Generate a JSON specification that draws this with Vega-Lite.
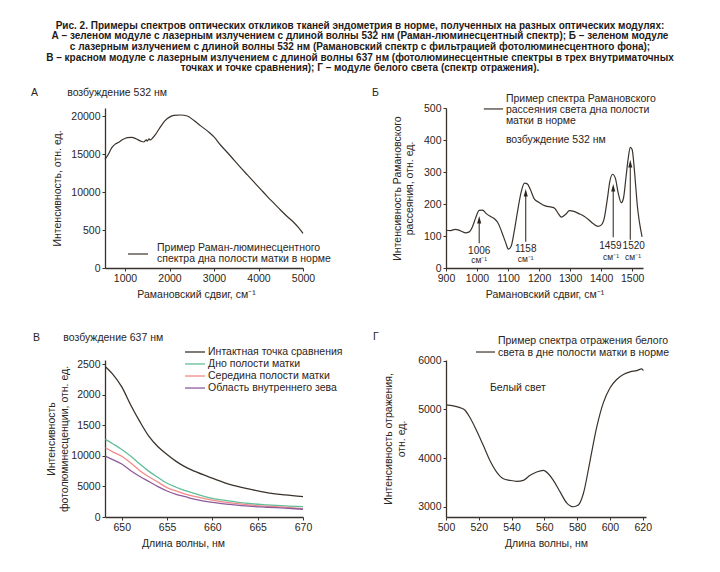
{
  "$schema": "https://vega.github.io/schema/vega-lite/v6.json",
  "autosize": {"type": "none"},
  "padding": {"left": 105, "top": 108, "right": 615, "bottom": 464},
  "background": "#ffffff",
  "title": {
    "text": [
      "Рис. 2. Примеры спектров оптических откликов тканей эндометрия в норме, полученных на разных оптических модулях:",
      "А – зеленом модуле с лазерным излучением с длиной волны 532 нм (Раман-люминесцентный спектр); Б – зеленом модуле",
      "с лазерным излучением с длиной волны 532 нм (Рамановский спектр с фильтрацией фотолюминесцентного фона);",
      "В – красном модуле с лазерным излучением с длиной волны 637 нм (фотолюминесцентные спектры в трех внутриматочных",
      "точках и точке сравнения); Г – модуле белого света (спектр отражения)."
    ],
    "anchor": "start",
    "frame": "group",
    "align": "center",
    "dx": 255,
    "offset": 14,
    "font": "'Liberation Sans Narrow', 'Liberation Sans', sans-serif",
    "fontSize": 10,
    "fontWeight": "bold",
    "lineHeight": 10.7,
    "color": "#1f1a17"
  },
  "columns": 2,
  "spacing": {"row": 92, "column": 143},
  "bounds": "flush",
  "resolve": {"scale": {"x": "independent", "y": "independent", "color": "independent"}},
  "datasets": {
    "a": [
      {"x": 550, "y": 14300}, {"x": 620, "y": 14900}, {"x": 700, "y": 15800}, {"x": 780, "y": 16300},
      {"x": 850, "y": 16500}, {"x": 950, "y": 16900}, {"x": 1050, "y": 17150}, {"x": 1150, "y": 17200},
      {"x": 1250, "y": 17000}, {"x": 1350, "y": 16700}, {"x": 1420, "y": 16580}, {"x": 1480, "y": 16850},
      {"x": 1500, "y": 16700}, {"x": 1540, "y": 17000}, {"x": 1565, "y": 16850}, {"x": 1620, "y": 17100},
      {"x": 1700, "y": 17700}, {"x": 1800, "y": 18600}, {"x": 1900, "y": 19400}, {"x": 2000, "y": 19850},
      {"x": 2100, "y": 20080}, {"x": 2250, "y": 20130}, {"x": 2400, "y": 20000}, {"x": 2550, "y": 19400},
      {"x": 2700, "y": 18700}, {"x": 2900, "y": 17800}, {"x": 3000, "y": 17250}, {"x": 3150, "y": 16150},
      {"x": 3300, "y": 15200}, {"x": 3450, "y": 14200}, {"x": 3600, "y": 13200}, {"x": 3750, "y": 12250},
      {"x": 3900, "y": 11300}, {"x": 4050, "y": 10350}, {"x": 4200, "y": 9400}, {"x": 4350, "y": 8500},
      {"x": 4500, "y": 7600}, {"x": 4650, "y": 6750}, {"x": 4800, "y": 5950}, {"x": 4900, "y": 5300},
      {"x": 5000, "y": 4550}
    ],
    "aLegendLine": [{"x": 1067, "x2": 1516, "y": 1842}],
    "aLegendText": [{"x": 1719, "y": 2237, "label": "Пример Раман-люминесцентного\nспектра дна полости матки в норме"}],
    "b": [
      {"x": 900, "y": 118}, {"x": 915, "y": 117}, {"x": 930, "y": 121}, {"x": 945, "y": 117},
      {"x": 962, "y": 110}, {"x": 975, "y": 113}, {"x": 985, "y": 128}, {"x": 995, "y": 155},
      {"x": 1007, "y": 180}, {"x": 1018, "y": 181}, {"x": 1030, "y": 170}, {"x": 1045, "y": 160},
      {"x": 1057, "y": 153}, {"x": 1068, "y": 140}, {"x": 1080, "y": 112}, {"x": 1092, "y": 80},
      {"x": 1101, "y": 59}, {"x": 1110, "y": 68}, {"x": 1120, "y": 115}, {"x": 1132, "y": 185},
      {"x": 1143, "y": 240}, {"x": 1153, "y": 265}, {"x": 1162, "y": 263}, {"x": 1172, "y": 245},
      {"x": 1185, "y": 215}, {"x": 1200, "y": 205}, {"x": 1220, "y": 194}, {"x": 1240, "y": 190},
      {"x": 1250, "y": 187}, {"x": 1262, "y": 170}, {"x": 1272, "y": 159}, {"x": 1285, "y": 167},
      {"x": 1298, "y": 179}, {"x": 1312, "y": 177}, {"x": 1328, "y": 170}, {"x": 1345, "y": 162},
      {"x": 1360, "y": 151}, {"x": 1375, "y": 138}, {"x": 1390, "y": 130}, {"x": 1400, "y": 134},
      {"x": 1410, "y": 155}, {"x": 1420, "y": 215}, {"x": 1428, "y": 270}, {"x": 1437, "y": 293},
      {"x": 1446, "y": 280}, {"x": 1455, "y": 235}, {"x": 1465, "y": 204}, {"x": 1472, "y": 218},
      {"x": 1480, "y": 282}, {"x": 1487, "y": 340}, {"x": 1494, "y": 377}, {"x": 1500, "y": 370},
      {"x": 1506, "y": 320}, {"x": 1512, "y": 250}, {"x": 1517, "y": 192}, {"x": 1524, "y": 140},
      {"x": 1532, "y": 97}
    ],
    "bLegendLine": [{"x": 1022, "x2": 1084, "y": 497}],
    "bLegendText": [{"x": 1093, "y": 519, "label": "Пример спектра Рамановского\nрассеяния света дна полости\nматки в норме"}],
    "bNote": [{"x": 1093, "y": 400, "label": "возбуждение 532 нм"}],
    "peakArrows": [
      {"x": 1007, "y": 77, "y2": 151}, {"x": 1157, "y": 82, "y2": 235},
      {"x": 1439, "y": 96, "y2": 251}, {"x": 1494, "y": 88, "y2": 326}
    ],
    "peakHeads": [
      {"x": 1007, "y": 151}, {"x": 1157, "y": 235}, {"x": 1439, "y": 251}, {"x": 1494, "y": 326}
    ],
    "peakLabels": [
      {"x": 1007, "y": 54, "label": "1006"}, {"x": 1157, "y": 58, "label": "1158"},
      {"x": 1430, "y": 69, "label": "1459"}, {"x": 1505, "y": 69, "label": "1520"}
    ],
    "peakUnits": [
      {"x": 1007, "y": 24, "label": "см⁻¹"}, {"x": 1157, "y": 27, "label": "см⁻¹"},
      {"x": 1432, "y": 35, "label": "см⁻¹"}, {"x": 1503, "y": 35, "label": "см⁻¹"}
    ],
    "v": [
      {"nm": 648.2, "v": 2461, "s": "Интактная точка сравнения"},
      {"nm": 649, "v": 2340, "s": "Интактная точка сравнения"},
      {"nm": 650, "v": 2129, "s": "Интактная точка сравнения"},
      {"nm": 651, "v": 1830, "s": "Интактная точка сравнения"},
      {"nm": 652, "v": 1560, "s": "Интактная точка сравнения"},
      {"nm": 653, "v": 1320, "s": "Интактная точка сравнения"},
      {"nm": 654, "v": 1150, "s": "Интактная точка сравнения"},
      {"nm": 655, "v": 1023, "s": "Интактная точка сравнения"},
      {"nm": 656, "v": 910, "s": "Интактная точка сравнения"},
      {"nm": 657, "v": 820, "s": "Интактная точка сравнения"},
      {"nm": 658, "v": 750, "s": "Интактная точка сравнения"},
      {"nm": 660, "v": 636, "s": "Интактная точка сравнения"},
      {"nm": 662, "v": 530, "s": "Интактная точка сравнения"},
      {"nm": 664, "v": 460, "s": "Интактная точка сравнения"},
      {"nm": 666, "v": 400, "s": "Интактная точка сравнения"},
      {"nm": 668, "v": 362, "s": "Интактная точка сравнения"},
      {"nm": 670, "v": 332, "s": "Интактная точка сравнения"},
      {"nm": 648.2, "v": 1272, "s": "Дно полости матки"},
      {"nm": 649, "v": 1200, "s": "Дно полости матки"},
      {"nm": 650, "v": 1106, "s": "Дно полости матки"},
      {"nm": 651, "v": 995, "s": "Дно полости матки"},
      {"nm": 652, "v": 868, "s": "Дно полости матки"},
      {"nm": 653, "v": 747, "s": "Дно полости матки"},
      {"nm": 654, "v": 647, "s": "Дно полости матки"},
      {"nm": 655, "v": 553, "s": "Дно полости матки"},
      {"nm": 656, "v": 487, "s": "Дно полости матки"},
      {"nm": 657, "v": 431, "s": "Дно полости матки"},
      {"nm": 658, "v": 387, "s": "Дно полости матки"},
      {"nm": 660, "v": 304, "s": "Дно полости матки"},
      {"nm": 662, "v": 260, "s": "Дно полости матки"},
      {"nm": 664, "v": 221, "s": "Дно полости матки"},
      {"nm": 666, "v": 199, "s": "Дно полости матки"},
      {"nm": 668, "v": 182, "s": "Дно полости матки"},
      {"nm": 670, "v": 171, "s": "Дно полости матки"},
      {"nm": 648.2, "v": 1134, "s": "Середина полости матки"},
      {"nm": 649, "v": 1067, "s": "Середина полости матки"},
      {"nm": 650, "v": 995, "s": "Середина полости матки"},
      {"nm": 651, "v": 885, "s": "Середина полости матки"},
      {"nm": 652, "v": 758, "s": "Середина полости матки"},
      {"nm": 653, "v": 658, "s": "Середина полости матки"},
      {"nm": 654, "v": 570, "s": "Середина полости матки"},
      {"nm": 655, "v": 481, "s": "Середина полости матки"},
      {"nm": 656, "v": 426, "s": "Середина полости матки"},
      {"nm": 657, "v": 376, "s": "Середина полости матки"},
      {"nm": 658, "v": 337, "s": "Середина полости матки"},
      {"nm": 660, "v": 277, "s": "Середина полости матки"},
      {"nm": 662, "v": 232, "s": "Середина полости матки"},
      {"nm": 664, "v": 199, "s": "Середина полости матки"},
      {"nm": 666, "v": 177, "s": "Середина полости матки"},
      {"nm": 668, "v": 160, "s": "Середина полости матки"},
      {"nm": 670, "v": 138, "s": "Середина полости матки"},
      {"nm": 648.2, "v": 995, "s": "Область внутреннего зева"},
      {"nm": 649, "v": 940, "s": "Область внутреннего зева"},
      {"nm": 650, "v": 868, "s": "Область внутреннего зева"},
      {"nm": 651, "v": 758, "s": "Область внутреннего зева"},
      {"nm": 652, "v": 664, "s": "Область внутреннего зева"},
      {"nm": 653, "v": 581, "s": "Область внутреннего зева"},
      {"nm": 654, "v": 498, "s": "Область внутреннего зева"},
      {"nm": 655, "v": 426, "s": "Область внутреннего зева"},
      {"nm": 656, "v": 371, "s": "Область внутреннего зева"},
      {"nm": 657, "v": 332, "s": "Область внутреннего зева"},
      {"nm": 658, "v": 293, "s": "Область внутреннего зева"},
      {"nm": 660, "v": 238, "s": "Область внутреннего зева"},
      {"nm": 662, "v": 205, "s": "Область внутреннего зева"},
      {"nm": 664, "v": 177, "s": "Область внутреннего зева"},
      {"nm": 666, "v": 160, "s": "Область внутреннего зева"},
      {"nm": 668, "v": 144, "s": "Область внутреннего зева"},
      {"nm": 670, "v": 127, "s": "Область внутреннего зева"}
    ],
    "vLegendLines": [
      {"nm": 656.98, "nm2": 659.19, "v": 2701, "s": "Интактная точка сравнения"},
      {"nm": 656.98, "nm2": 659.19, "v": 2505, "s": "Дно полости матки"},
      {"nm": 656.98, "nm2": 659.19, "v": 2308, "s": "Середина полости матки"},
      {"nm": 656.98, "nm2": 659.19, "v": 2111, "s": "Область внутреннего зева"}
    ],
    "vLegendText": [
      {"nm": 659.52, "v": 2701, "label": "Интактная точка сравнения"},
      {"nm": 659.52, "v": 2505, "label": "Дно полости матки"},
      {"nm": 659.52, "v": 2308, "label": "Середина полости матки"},
      {"nm": 659.52, "v": 2111, "label": "Область внутреннего зева"}
    ],
    "g": [
      {"x": 500, "y": 5091}, {"x": 504.5, "y": 5071}, {"x": 508.5, "y": 5037}, {"x": 511.6, "y": 4982},
      {"x": 514.6, "y": 4833}, {"x": 518.7, "y": 4561}, {"x": 522.8, "y": 4256}, {"x": 526.8, "y": 3950},
      {"x": 530.9, "y": 3713}, {"x": 535, "y": 3577}, {"x": 539, "y": 3543}, {"x": 543.1, "y": 3523},
      {"x": 547.2, "y": 3543}, {"x": 551.3, "y": 3645}, {"x": 555.3, "y": 3713}, {"x": 559.4, "y": 3747},
      {"x": 562.4, "y": 3679}, {"x": 565.5, "y": 3543}, {"x": 569.6, "y": 3305}, {"x": 573.6, "y": 3081},
      {"x": 577.7, "y": 3000}, {"x": 580.7, "y": 3034}, {"x": 583.8, "y": 3272}, {"x": 587.9, "y": 3950},
      {"x": 591.9, "y": 4629}, {"x": 596, "y": 5138}, {"x": 600.1, "y": 5444}, {"x": 604.1, "y": 5614},
      {"x": 608.2, "y": 5716}, {"x": 612.3, "y": 5770}, {"x": 616.3, "y": 5797}, {"x": 619.4, "y": 5831},
      {"x": 620.4, "y": 5797}
    ],
    "gLegendLine": [{"x": 518.3, "x2": 529.9, "y": 6178}],
    "gLegendText": [{"x": 531.7, "y": 6343, "label": "Пример спектра отражения белого\nсвета в дне полости матки в норме"}],
    "gNote": [{"x": 526.8, "y": 5442, "label": "Белый свет"}, {"x": 455.5, "y": 6486, "label": "Г"}]
  },
  "concat": [
    {
      "width": 198,
      "height": 160,
      "title": {"text": "А\u00a0\u00a0\u00a0\u00a0\u00a0\u00a0\u00a0\u00a0\u00a0\u00a0возбуждение 532 нм", "dx": -74, "offset": 10},
      "encoding": {
        "x": {"field": "x", "type": "quantitative",
          "scale": {"domain": [550, 5000], "nice": false, "zero": false},
          "axis": {"values": [1000, 2000, 3000, 4000, 5000], "format": "d", "labelOverlap": false, "title": "Рамановский сдвиг, см⁻¹", "titleX": 91, "titlePadding": 6}},
        "y": {"field": "y", "type": "quantitative",
          "scale": {"domain": [0, 21053], "nice": false},
          "axis": {"values": [0, 5000, 10000, 15000, 20000], "labelOverlap": false, "labelExpr": "datum.value == 5000 ? '500' : format(datum.value, 'd')", "title": "Интенсивность, отн. ед.", "titlePadding": 8}}
      },
      "layer": [
        {"data": {"name": "a"}, "mark": {"type": "line", "interpolate": "monotone", "strokeWidth": 1.2, "color": "#3b332b"}},
        {"data": {"name": "aLegendLine"}, "mark": {"type": "rule", "strokeWidth": 1.2, "color": "#3b332b"},
          "encoding": {"x2": {"field": "x2"}}},
        {"data": {"name": "aLegendText"},
          "mark": {"type": "text", "align": "left", "baseline": "alphabetic", "fontSize": 10.5, "lineHeight": 11, "lineBreak": "\n", "color": "#2b2521"},
          "encoding": {"text": {"field": "label"}}}
      ]
    },
    {
      "width": 197,
      "height": 160,
      "title": {"text": "Б", "dx": -74, "offset": -5},
      "encoding": {
        "x": {"field": "x", "type": "quantitative",
          "scale": {"domain": [900, 1535], "nice": false, "zero": false},
          "axis": {"values": [900, 1000, 1100, 1200, 1300, 1400, 1500], "format": "d", "labelOverlap": false, "title": "Рамановский сдвиг, см⁻¹", "titlePadding": 6}},
        "y": {"field": "y", "type": "quantitative",
          "scale": {"domain": [0, 500], "nice": false},
          "axis": {"values": [0, 100, 200, 300, 400, 500], "format": "d", "labelOverlap": false, "title": ["Интенсивность Рамановского", "рассеяния, отн. ед."], "titleLineHeight": 12, "titlePadding": 9}}
      },
      "layer": [
        {"data": {"name": "b"}, "mark": {"type": "line", "interpolate": "monotone", "strokeWidth": 1.2, "color": "#3b332b"}},
        {"data": {"name": "bLegendLine"}, "mark": {"type": "rule", "strokeWidth": 1.2, "color": "#3b332b"},
          "encoding": {"x2": {"field": "x2"}}},
        {"data": {"name": "bLegendText"},
          "mark": {"type": "text", "align": "left", "baseline": "alphabetic", "fontSize": 10.5, "lineHeight": 11.2, "lineBreak": "\n", "color": "#2b2521"},
          "encoding": {"text": {"field": "label"}}},
        {"data": {"name": "bNote"},
          "mark": {"type": "text", "align": "left", "baseline": "middle", "fontSize": 10.5, "color": "#2b2521"},
          "encoding": {"text": {"field": "label"}}},
        {"data": {"name": "peakArrows"}, "mark": {"type": "rule", "strokeWidth": 1.1, "color": "#3b332b"},
          "encoding": {"y2": {"field": "y2"}}},
        {"data": {"name": "peakHeads"},
          "mark": {"type": "point", "shape": "M0,-1L0.55,1L-0.55,1Z", "size": 55, "filled": true, "opacity": 1, "color": "#2b2521"}},
        {"data": {"name": "peakLabels"},
          "mark": {"type": "text", "align": "center", "baseline": "middle", "fontSize": 10, "color": "#2b2521"},
          "encoding": {"text": {"field": "label"}}},
        {"data": {"name": "peakUnits"},
          "mark": {"type": "text", "align": "center", "baseline": "middle", "fontSize": 8.5, "color": "#2b2521"},
          "encoding": {"text": {"field": "label"}}}
      ]
    },
    {
      "width": 198,
      "height": 157,
      "title": {"text": "В\u00a0\u00a0\u00a0\u00a0\u00a0\u00a0\u00a0\u00a0возбуждение 637 нм", "dx": -72, "offset": 3},
      "encoding": {
        "x": {"field": "nm", "type": "quantitative",
          "scale": {"domain": [648.15, 670], "nice": false, "zero": false},
          "axis": {"values": [650, 655, 660, 665, 670], "format": "d", "labelOverlap": false, "title": "Длина волны, нм", "titleX": 78, "titlePadding": 6}},
        "y": {"field": "v", "type": "quantitative",
          "scale": {"domain": [0, 2570], "nice": false},
          "axis": {"values": [0, 500, 1000, 1500, 2000, 2500], "labelOverlap": false,
            "labelExpr": "datum.value == 500 ? '5000' : datum.value == 1000 ? '10000' : format(datum.value, 'd')",
            "title": ["Интенсивность", "фотолюминесценции, отн. ед."], "titleLineHeight": 13, "titlePadding": 1}}
      },
      "layer": [
        {"data": {"name": "v"},
          "mark": {"type": "line", "interpolate": "monotone", "strokeWidth": 1.3},
          "encoding": {
            "color": {"field": "s", "type": "nominal", "legend": null,
              "scale": {"domain": ["Интактная точка сравнения", "Дно полости матки", "Середина полости матки", "Область внутреннего зева"],
                "range": ["#3b332b", "#5fbf98", "#f48a8a", "#8c5c9c"]}}
          }},
        {"data": {"name": "vLegendLines"},
          "mark": {"type": "rule", "strokeWidth": 1.3},
          "encoding": {
            "x2": {"field": "nm2"},
            "color": {"field": "s", "type": "nominal", "legend": null,
              "scale": {"domain": ["Интактная точка сравнения", "Дно полости матки", "Середина полости матки", "Область внутреннего зева"],
                "range": ["#3b332b", "#5fbf98", "#f48a8a", "#8c5c9c"]}}
          }},
        {"data": {"name": "vLegendText"},
          "mark": {"type": "text", "align": "left", "baseline": "middle", "fontSize": 10.5, "color": "#2b2521"},
          "encoding": {"text": {"field": "label"}}}
      ]
    },
    {
      "width": 200,
      "height": 157,
      "encoding": {
        "x": {"field": "x", "type": "quantitative",
          "scale": {"domain": [500, 622], "nice": false, "zero": false},
          "axis": {"values": [500, 520, 540, 560, 580, 600, 620], "format": "d", "labelOverlap": false, "title": "Длина волны, нм", "titlePadding": 6}},
        "y": {"field": "y", "type": "quantitative",
          "scale": {"domain": [2790, 6014], "nice": false, "zero": false},
          "axis": {"values": [3000, 4000, 5000, 6000], "format": "d", "labelOverlap": false, "title": ["Интенсивность отражения,", "отн. ед."], "titleLineHeight": 13.5, "titlePadding": 11}}
      },
      "layer": [
        {"data": {"name": "g"}, "mark": {"type": "line", "interpolate": "monotone", "strokeWidth": 1.2, "color": "#3b332b"}},
        {"data": {"name": "gLegendLine"}, "mark": {"type": "rule", "strokeWidth": 1.2, "color": "#3b332b"},
          "encoding": {"x2": {"field": "x2"}}},
        {"data": {"name": "gLegendText"},
          "mark": {"type": "text", "align": "left", "baseline": "alphabetic", "fontSize": 10.5, "lineHeight": 12, "lineBreak": "\n", "color": "#2b2521"},
          "encoding": {"text": {"field": "label"}}},
        {"data": {"name": "gNote"},
          "mark": {"type": "text", "align": "left", "baseline": "middle", "fontSize": 10.5, "color": "#2b2521"},
          "encoding": {"text": {"field": "label"}}}
      ]
    }
  ],
  "config": {
    "font": "Liberation Sans",
    "view": {"stroke": null},
    "line": {"color": "#3b332b"},
    "axis": {
      "domainColor": "#3b332b", "domainWidth": 1.3, "tickColor": "#3b332b", "tickWidth": 1, "tickSize": 3,
      "labelFont": "Liberation Sans", "labelFontSize": 10.5, "labelColor": "#2b2521", "labelPadding": 2,
      "labelFlush": false, "labelOverlap": false,
      "titleFont": "Liberation Sans", "titleFontSize": 10.5, "titleFontWeight": "normal", "titleColor": "#2b2521",
      "grid": false
    },
    "title": {
      "anchor": "start", "frame": "group", "font": "Liberation Sans", "fontSize": 10.5, "fontWeight": "normal", "color": "#2b2521"
    }
  }
}
